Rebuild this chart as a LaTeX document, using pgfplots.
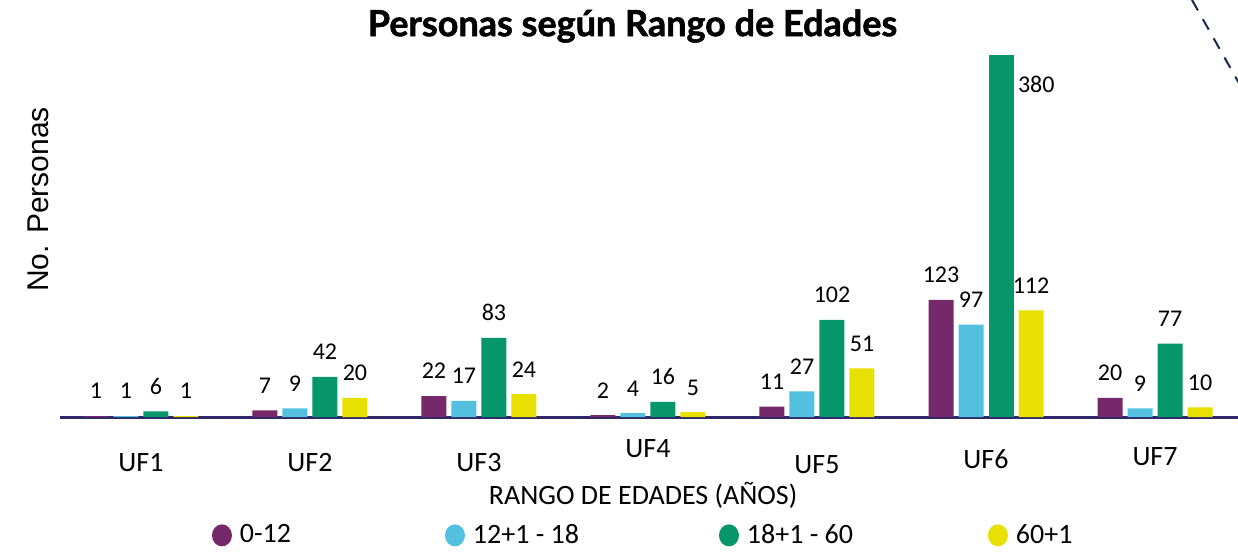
\documentclass[border=0pt]{standalone}
\usepackage{pgfplots}
\pgfplotsset{compat=1.18}
\usepackage{fontspec}
\setmainfont{Carlito}
\newfontfamily\arialf{Liberation Sans}
\newfontfamily\titlef{Lato}[BoldFeatures={FakeBold=1.5}]
\definecolor{cpur}{RGB}{118,41,106}
\definecolor{ccya}{RGB}{82,192,222}
\definecolor{cgre}{RGB}{6,150,106}
\definecolor{cyel}{RGB}{232,224,0}
\definecolor{cnav}{RGB}{46,40,104}
\definecolor{cdash}{RGB}{20,40,80}
\pgfplotsset{
  circle legend/.style={legend image code/.code={\fill[##1,draw=none] (5pt,0pt) ellipse (5pt and 5.5pt);}}
}
\begin{document}
\begin{tikzpicture}
\path[use as bounding box] (-30pt,-67.5pt) rectangle (589pt,208.5pt);
\begin{axis}[
  scale only axis, width=589pt, height=181pt,
  xmin=-0.479, xmax=6.491, ymin=0, ymax=380,
  ybar, bar width=12.5pt, clip=false,
  /pgf/number format/assume math mode=true,
  axis x line=bottom, axis y line=left,
  x axis line style={-, cnav, line width=1.5pt},
  y axis line style={draw=none},
  ytick=\empty,
  xtick={0,1,2,3,4,5,6},
  xticklabels={UF1,UF2,UF3,\raisebox{7pt}{UF4},\raisebox{-1pt}{UF5},\raisebox{1.5pt}{UF6},\raisebox{3pt}{UF7}},
  xtick style={draw=none},
  xticklabel style={anchor=base, yshift=-25pt, font=\fontsize{14}{16}\selectfont},
  xlabel={RANGO DE EDADES (AÑOS)},
  xlabel style={at={(axis description cs:0.495,-0.216)}, anchor=center, font=\fontsize{14}{16}\selectfont},
  ylabel={No. Personas},
  ylabel style={at={(axis description cs:-0.0187,0.601)}, anchor=center, rotate=0, font=\arialf\fontsize{15}{17}\selectfont},
  every axis title shift=0pt,
  title={\bfseries Personas según Rango de Edades},
  title style={at={(axis description cs:0.486,1.08)}, anchor=center, font=\titlef\fontsize{18}{20}\selectfont},
  nodes near coords,
  every node near coord/.append style={font=\fontsize{12}{14}\selectfont, yshift=5pt, black},
  legend columns=4,
  legend style={at={(axis description cs:0.129,-0.327)}, anchor=west, draw=none, fill=none, inner sep=0pt, outer sep=0pt, column sep=0pt,
    nodes={inner sep=0pt, font=\fontsize{14}{16}\selectfont}},
]
\addplot[fill=cpur, draw=none, bar shift=-22.5pt, circle legend] coordinates {(0,1) (1,7) (2,22) (3,2) (4,11) (5,123) (6,20)};
\addlegendentry{\makebox[106.5pt][l]{\hspace{4pt}0-12}}
\addplot[fill=ccya, draw=none, bar shift=-7.5pt, circle legend] coordinates {(0,1) (1,9) (2,17) (3,4) (4,27) (5,97) (6,9)};
\addlegendentry{\makebox[127pt][l]{\hspace{4pt}12+1 - 18}}
\addplot[fill=cgre, draw=none, bar shift=7.5pt, circle legend] coordinates {(0,6) (1,42) (2,83) (3,16) (4,102) (6,77)};
\addlegendentry{\makebox[124.5pt][l]{\hspace{4pt}18+1 - 60}}
\addplot[fill=cyel, draw=none, bar shift=22.5pt, circle legend] coordinates {(0,1) (1,20) (2,24) (3,5) (4,51) (5,112) (6,10)};
\addlegendentry{\hspace{4pt}60+1}
\addplot[fill=cgre, draw=none, bar shift=7.5pt, forget plot,
  every node near coord/.append style={anchor=west, xshift=5pt, yshift=-19.5pt}] coordinates {(5,380)};
\end{axis}
\draw[cdash, line width=1pt, dash pattern=on 6pt off 5pt] (566pt,208.5pt) -- (590pt,166pt);
\end{tikzpicture}
\end{document}
